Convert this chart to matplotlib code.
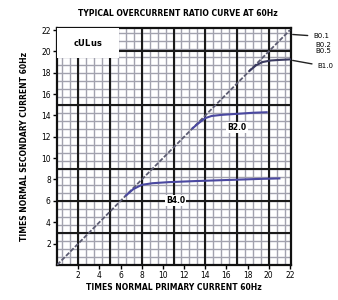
import numpy as np
import matplotlib.pyplot as plt

# Ratio curves (times normal primary vs secondary current)
diag_x = [0, 22]
diag_y = [0, 22]

low_x = [6.5, 7.2, 8.0, 9.0, 10.5, 13.0, 16.0, 19.0, 21.0]
low_y = [6.5, 7.1, 7.5, 7.65, 7.75, 7.85, 7.95, 8.05, 8.1]

mid_x = [12.8, 13.4, 14.0, 14.6, 15.5, 17.0, 18.5, 19.8]
mid_y = [12.8, 13.3, 13.75, 13.95, 14.05, 14.15, 14.25, 14.3]

top_x = [18.2, 18.8, 19.4, 20.2, 21.0, 22.0]
top_y = [18.2, 18.7, 19.0, 19.15, 19.2, 19.25]

ticks = [2, 4, 6, 8, 10, 12, 14, 16, 18, 20, 22]

fig = plt.figure(figsize=(3.38, 3.0), dpi=100)
ax = fig.add_axes([0.169, 0.117, 0.692, 0.79])
ax.set_xlim(0, 22.1)
ax.set_ylim(0, 22.2)

# graph paper grid
minor_v = np.arange(0.5, 22, 0.75)
heavy_v = [2, 5, 8, 11, 14, 17, 20]
minor_h = np.arange(0.75, 22.2, 0.75)
heavy_h = [3, 6, 9, 15, 20]
for v in minor_v:
    ax.axvline(v, color='#a2a2ae', lw=1.0, zorder=1)
for h in minor_h:
    ax.axhline(h, color='#a2a2ae', lw=1.0, zorder=1)
for v in heavy_v:
    ax.axvline(v, color='#1a1a1a', lw=1.5, zorder=2)
for h in heavy_h:
    ax.axhline(h, color='#1a1a1a', lw=1.5, zorder=2)

# white box with the listing mark
ax.add_patch(plt.Rectangle((0, 19.4), 5.8, 2.9, facecolor='white',
                           edgecolor='none', zorder=3))
ax.text(2.9, 20.8, 'c$\\mathbf{UL}$us', ha='center', va='center',
        fontsize=6, fontweight='bold', zorder=4)

# curves
ax.plot(diag_x, diag_y, color='#5c5c72', lw=1.3, ls=(0, (2.5, 1)), zorder=5)
ax.plot(low_x, low_y, color='#4a48a0', lw=1.5, zorder=6)
ax.plot(mid_x, mid_y, color='#4a48a0', lw=1.5, zorder=6)
ax.plot(top_x, top_y, color='#3a3a60', lw=1.5, zorder=6)

# curve labels
box = dict(boxstyle='square,pad=0.15', facecolor='white', edgecolor='none')
ax.text(11.2, 6.0, 'B4.0', fontsize=5.5, fontweight='bold', ha='center',
        va='center', bbox=box, zorder=7)
ax.text(17.0, 12.9, 'B2.0', fontsize=5.5, fontweight='bold', ha='center',
        va='center', bbox=box, zorder=7)

# burden labels on the right edge
ax.annotate('B0.1', xy=(22, 21.6), xytext=(24.2, 21.4), fontsize=5,
            ha='left', va='center', annotation_clip=False,
            arrowprops=dict(arrowstyle='-', color='#222222', lw=1.0))
ax.text(24.4, 20.3, 'B0.2\nB0.5', fontsize=5, ha='left', va='center',
        linespacing=0.9, clip_on=False)
ax.annotate('B1.0', xy=(22, 19.2), xytext=(24.6, 18.6), fontsize=5,
            ha='left', va='center', annotation_clip=False,
            arrowprops=dict(arrowstyle='-', color='#222222', lw=1.0))

ax.set_xticks(ticks)
ax.set_yticks(ticks)
ax.tick_params(labelsize=5.5, length=3, width=1.0, pad=1.5)
for s in ax.spines.values():
    s.set_linewidth(1.6)
    s.set_color('#111111')

fig.text(0.525, 0.955, 'TYPICAL OVERCURRENT RATIO CURVE AT 60Hz',
         ha='center', va='center', fontsize=5.5, fontweight='bold')
ax.set_xlabel('TIMES NORMAL PRIMARY CURRENT 60Hz', fontsize=5.5,
              fontweight='bold', labelpad=2)
ax.set_ylabel('TIMES NORMAL SECONDARY CURRENT 60Hz', fontsize=5.5,
              fontweight='bold', labelpad=9)

fig.savefig('out.png', dpi=100)
